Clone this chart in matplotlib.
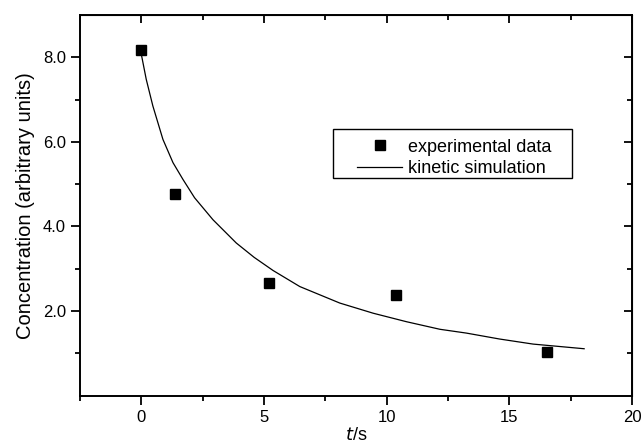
import matplotlib
matplotlib.use("Agg")
import matplotlib.pyplot as plt
from matplotlib.ticker import MultipleLocator, FixedLocator
from matplotlib.patches import Rectangle

plt.rcParams['font.family'] = ['Liberation Sans', 'DejaVu Sans']

# experimental data
t_exp = [0.0, 1.37, 5.19, 10.4, 16.53]
c_exp = [8.18, 4.76, 2.66, 2.37, 1.04]

# kinetic simulation curve
t_sim = [0.0, 0.2, 0.47, 0.88, 1.29, 1.70, 2.17, 2.92, 3.87, 4.6, 5.37, 6.46,
         8.09, 9.45, 10.8, 12.17, 13.25, 14.6, 15.97, 18.05]
c_sim = [8.07, 7.48, 6.85, 6.06, 5.51, 5.11, 4.68, 4.16, 3.61, 3.27, 2.96, 2.58,
         2.19, 1.95, 1.75, 1.57, 1.48, 1.34, 1.22, 1.11]

x_ticks = [0, 5, 10, 15, 20]
y_ticks = [2.0, 4.0, 6.0, 8.0]
y_ticklabels = ["2.0", "4.0", "6.0", "8.0"]
y_minor = [1, 3, 5, 7]

fig = plt.figure(figsize=(6.42, 4.44), dpi=100)
ax = fig.add_axes([0.1246, 0.1088, 0.8598, 0.8574])

ax.plot(t_sim, c_sim, color='black', lw=0.9, label='kinetic simulation', zorder=2)
ax.plot(t_exp, c_exp, linestyle='none', marker='s', ms=7, color='black',
        label='experimental data', zorder=3)

ax.set_xlim(-2.5, 20)
ax.set_ylim(0, 9)

ax.xaxis.set_major_locator(FixedLocator(x_ticks))
ax.xaxis.set_minor_locator(MultipleLocator(2.5))
ax.yaxis.set_major_locator(FixedLocator(y_ticks))
ax.set_yticklabels(y_ticklabels)
ax.yaxis.set_minor_locator(FixedLocator(y_minor))

ax.tick_params(which='both', direction='out', width=1.3, labelsize=12, colors='black')
ax.tick_params(which='major', length=6.5, pad=3.5)
ax.tick_params(which='minor', length=3.5)

for s in ax.spines.values():
    s.set_linewidth(1.4)

secx = ax.secondary_xaxis('top')
secx.xaxis.set_major_locator(FixedLocator(x_ticks))
secx.xaxis.set_minor_locator(MultipleLocator(2.5))
secx.tick_params(which='both', direction='in', width=1.3, labeltop=False)
secx.tick_params(which='major', length=6)
secx.tick_params(which='minor', length=3.5)

secy = ax.secondary_yaxis('right')
secy.yaxis.set_major_locator(FixedLocator(y_ticks))
secy.yaxis.set_minor_locator(FixedLocator(y_minor))
secy.tick_params(which='both', direction='in', width=1.3, labelright=False)
secy.tick_params(which='major', length=6)
secy.tick_params(which='minor', length=3.5)

ax.set_xlabel(r'$\it{t}$/s', fontsize=13, labelpad=2)
ax.set_ylabel('Concentration (arbitrary units)', fontsize=14.5, labelpad=6)

handles, labels = ax.get_legend_handles_labels()
leg = ax.legend(handles[::-1], labels[::-1], loc='upper left',
                bbox_to_anchor=(0.502, 0.675), fontsize=13, frameon=False,
                handlelength=2.5, handletextpad=0.3, borderpad=0,
                borderaxespad=0, labelspacing=0.25)
ax.add_patch(Rectangle((0.458, 0.572), 0.433, 0.1285, transform=ax.transAxes,
                       fill=False, edgecolor='black', lw=1.0, zorder=4))

fig.savefig('out.png', dpi=100)
